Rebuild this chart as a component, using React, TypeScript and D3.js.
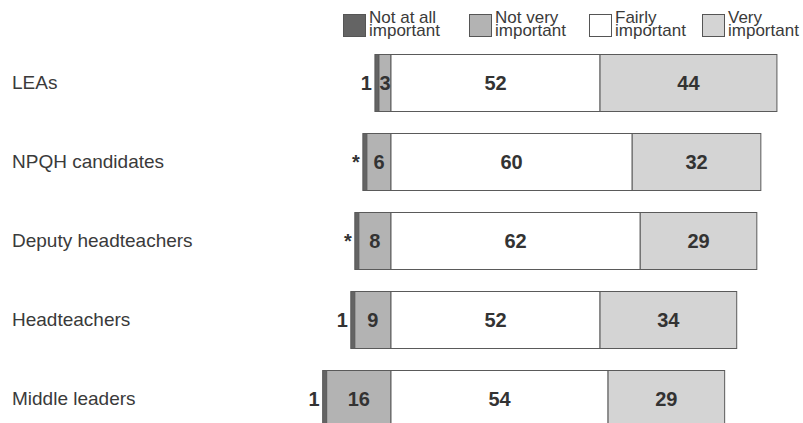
import React from "react";
import * as d3 from "d3";

// Survey groups, top to bottom
const categories = [
  "LEAs",
  "NPQH candidates",
  "Deputy headteachers",
  "Headteachers",
  "Middle leaders",
];

// Percentages per response
const notAtAll = [1, 1, 1, 1, 1];
const notAtAllLabels = ["1", "*", "*", "1", "1"];
const notVery = [3, 6, 8, 9, 16];
const fairly = [52, 60, 62, 52, 54];
const very = [44, 32, 29, 34, 29];

const legendLabels = [
  ["Not at all", "important"],
  ["Not very", "important"],
  ["Fairly", "important"],
  ["Very", "important"],
];

const fills = ["#646464", "#b3b3b3", "#ffffff", "#d4d4d4"];

const W = 803;
const H = 423;
const FONT = "'Liberation Sans', Arial, Helvetica, sans-serif";

export default function App() {
  // Bars are anchored on the boundary between negative and positive answers
  const x = d3.scaleLinear().domain([0, 100]).range([391, 391 + 402]);
  const y = d3
    .scaleBand<string>()
    .domain(categories)
    .range([54, 427])
    .paddingInner(22 / 79)
    .paddingOuter(0);

  const legendX = [343, 469, 589, 702];

  return (
    <svg
      width={W}
      height={H}
      style={{ position: "absolute", left: 0, top: 0, background: "#fff" }}
      fontFamily={FONT}
    >
      {/* legend */}
      {legendLabels.map((lines, i) => (
        <g key={i} transform={`translate(${legendX[i]},0)`}>
          <rect
            x={0.5}
            y={14.5}
            width={22}
            height={22}
            fill={fills[i]}
            stroke="#555"
          />
          <text fontSize={17} fill="#3a3a3a">
            <tspan x={26} y={23}>
              {lines[0]}
            </tspan>
            <tspan x={26} y={35.5}>
              {lines[1]}
            </tspan>
          </text>
        </g>
      ))}

      {categories.map((c, i) => {
        const y0 = y(c)!;
        const h = y.bandwidth();
        const cy = y0 + h / 2;
        const left = -(notVery[i] + notAtAll[i]);
        const segs = [
          { a: left, b: -notVery[i], v: notAtAll[i], f: fills[0] },
          { a: -notVery[i], b: 0, v: notVery[i], f: fills[1] },
          { a: 0, b: fairly[i], v: fairly[i], f: fills[2] },
          { a: fairly[i], b: fairly[i] + very[i], v: very[i], f: fills[3] },
        ];
        return (
          <g key={c}>
            <text x={12} y={cy} dy="0.35em" fontSize={19} fill="#3a3a3a">
              {c}
            </text>
            {segs.map((s, k) => (
              <rect
                key={k}
                x={x(s.a)}
                y={y0 + 0.5}
                width={x(s.b) - x(s.a)}
                height={h}
                fill={s.f}
                stroke="#5a5a5a"
                strokeWidth={1}
              />
            ))}
            <text
              x={x(left) - 3}
              y={cy}
              dy="0.35em"
              textAnchor="end"
              fontSize={20}
              fontWeight="bold"
              fill="#333"
            >
              {notAtAllLabels[i]}
            </text>
            {segs.slice(1).map((s, k) => (
              <text
                key={k}
                x={(x(s.a) + x(s.b)) / 2}
                y={cy}
                dy="0.35em"
                textAnchor="middle"
                fontSize={20}
                fontWeight="bold"
                fill="#333"
              >
                {s.v}
              </text>
            ))}
          </g>
        );
      })}
    </svg>
  );
}
